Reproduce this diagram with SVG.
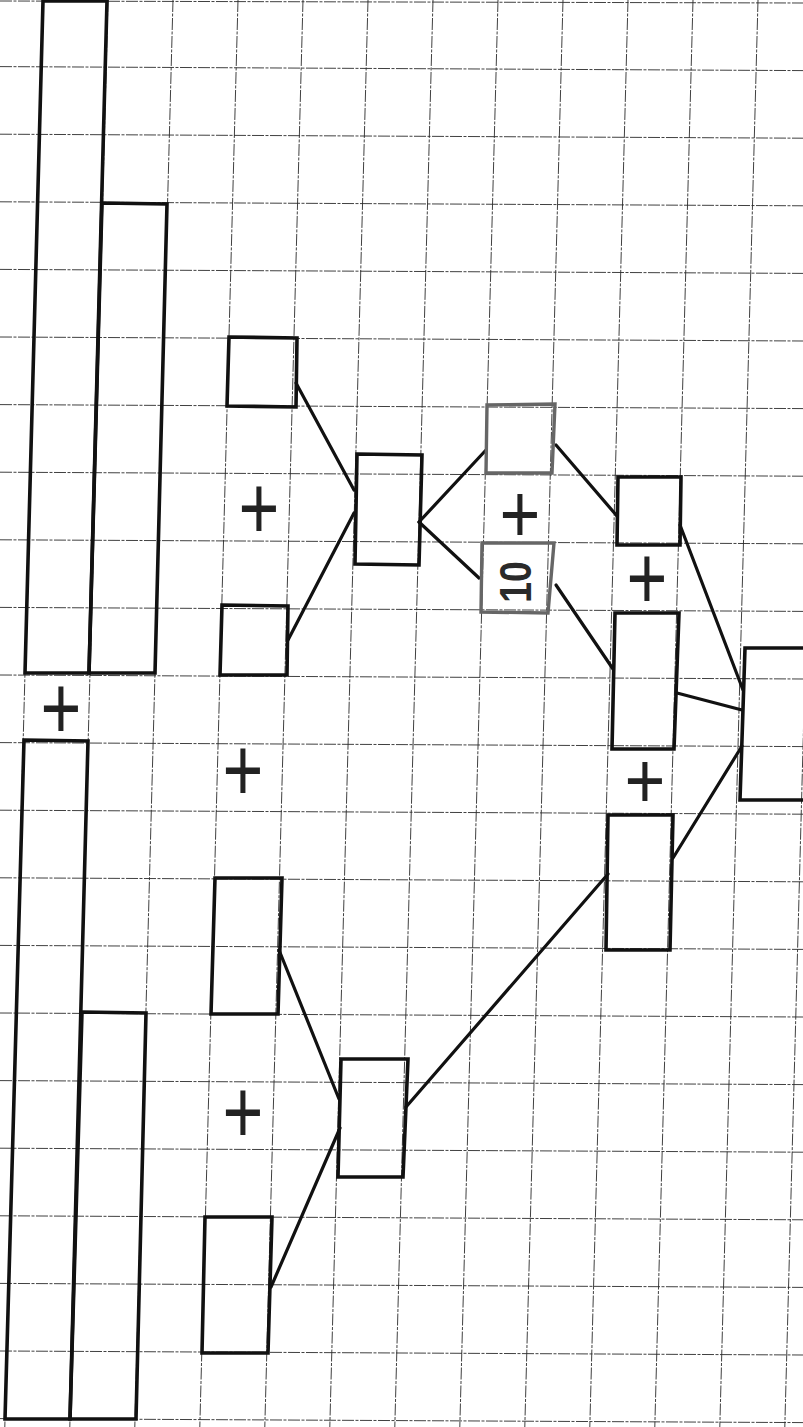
<svg xmlns="http://www.w3.org/2000/svg" width="803" height="1427" viewBox="0 0 803 1427">
<style>
.grid{stroke:#2a2a2a;stroke-width:0.9;stroke-dasharray:12 1.5 3 1.5;fill:none}
.box{fill:none;stroke:#111;stroke-width:3.6;stroke-linejoin:miter}
.gbox{fill:none;stroke:#666;stroke-width:3.4}
.conn{stroke:#111;stroke-width:3.2;stroke-linecap:round;fill:none}
.plus{font-family:"Liberation Sans",Arial,sans-serif;font-size:70px;fill:#222;text-anchor:middle;dominant-baseline:central}
.num{font-family:"Liberation Sans",Arial,sans-serif;font-size:44px;font-weight:bold;fill:#2a2a2a;text-anchor:middle;dominant-baseline:central}
</style>
<rect width="803" height="1427" fill="#fff"/>
<g id="grid">
<line class="grid" x1="43" y1="0" x2="4.8" y2="1427"/>
<line class="grid" x1="108" y1="0" x2="69.8" y2="1427"/>
<line class="grid" x1="173" y1="0" x2="134.8" y2="1427"/>
<line class="grid" x1="238" y1="0" x2="199.8" y2="1427"/>
<line class="grid" x1="303" y1="0" x2="264.8" y2="1427"/>
<line class="grid" x1="368" y1="0" x2="329.8" y2="1427"/>
<line class="grid" x1="433" y1="0" x2="394.8" y2="1427"/>
<line class="grid" x1="498" y1="0" x2="459.8" y2="1427"/>
<line class="grid" x1="563" y1="0" x2="524.8" y2="1427"/>
<line class="grid" x1="628" y1="0" x2="589.8" y2="1427"/>
<line class="grid" x1="693" y1="0" x2="654.8" y2="1427"/>
<line class="grid" x1="758" y1="0" x2="719.8" y2="1427"/>
<line class="grid" x1="823" y1="0" x2="784.8" y2="1427"/>
<line class="grid" x1="0" y1="1" x2="803" y2="3"/>
<line class="grid" x1="0" y1="66.6" x2="803" y2="70.6"/>
<line class="grid" x1="0" y1="134.2" x2="803" y2="138.2"/>
<line class="grid" x1="0" y1="201.8" x2="803" y2="205.8"/>
<line class="grid" x1="0" y1="269.4" x2="803" y2="273.4"/>
<line class="grid" x1="0" y1="337" x2="803" y2="341"/>
<line class="grid" x1="0" y1="404.6" x2="803" y2="408.6"/>
<line class="grid" x1="0" y1="472.2" x2="803" y2="476.2"/>
<line class="grid" x1="0" y1="539.8" x2="803" y2="543.8"/>
<line class="grid" x1="0" y1="607.4" x2="803" y2="611.4"/>
<line class="grid" x1="0" y1="675" x2="803" y2="679"/>
<line class="grid" x1="0" y1="742.6" x2="803" y2="746.6"/>
<line class="grid" x1="0" y1="810.2" x2="803" y2="814.2"/>
<line class="grid" x1="0" y1="877.8" x2="803" y2="881.8"/>
<line class="grid" x1="0" y1="945.4" x2="803" y2="949.4"/>
<line class="grid" x1="0" y1="1013" x2="803" y2="1017"/>
<line class="grid" x1="0" y1="1080.6" x2="803" y2="1084.6"/>
<line class="grid" x1="0" y1="1148.2" x2="803" y2="1152.2"/>
<line class="grid" x1="0" y1="1215.8" x2="803" y2="1219.8"/>
<line class="grid" x1="0" y1="1283.4" x2="803" y2="1287.4"/>
<line class="grid" x1="0" y1="1351" x2="803" y2="1355"/>
<line class="grid" x1="0" y1="1418.6" x2="803" y2="1422.6"/>
</g>
<g id="connectors">
<line class="conn" x1="296" y1="383" x2="354" y2="490"/>
<line class="conn" x1="288" y1="640" x2="354" y2="513"/>
<line class="conn" x1="419" y1="522" x2="486" y2="450"/>
<line class="conn" x1="419" y1="522" x2="479" y2="578"/>
<line class="conn" x1="556" y1="445" x2="617" y2="516"/>
<line class="conn" x1="556" y1="585" x2="613" y2="669"/>
<line class="conn" x1="680" y1="525" x2="743" y2="690"/>
<line class="conn" x1="677" y1="693" x2="742" y2="710"/>
<line class="conn" x1="673" y1="858" x2="742" y2="746"/>
<line class="conn" x1="279" y1="950" x2="339" y2="1099"/>
<line class="conn" x1="271" y1="1287" x2="340" y2="1128"/>
<line class="conn" x1="406" y1="1107" x2="608" y2="874"/>
</g>
<g id="bar-top-1"><polygon class="box" points="43,1 107,1 89,673 25,673"/></g>
<g id="bar-top-2"><polygon class="box" points="102,203 167,204 155,673 89,673"/></g>
<g id="plus-bars"><text class="plus" transform="translate(61,708) scale(1,1.3)">+</text></g>
<g id="bar-bottom-1"><polygon class="box" points="24,740 88,741 70,1419 5,1419"/></g>
<g id="bar-bottom-2"><polygon class="box" points="82,1012 146,1013 136,1419 70,1419"/></g>
<g id="box-a"><polygon class="box" points="229,337 297,338 296,407 227,406"/></g>
<g id="plus-ab"><text class="plus" transform="translate(259,508) scale(1,1.3)">+</text></g>
<g id="box-b"><polygon class="box" points="222,605 288,606 287,675 220,675"/></g>
<g id="plus-bc"><text class="plus" transform="translate(243,770) scale(1,1.3)">+</text></g>
<g id="box-c"><polygon class="box" points="215,878 282,878 278,1014 211,1014"/></g>
<g id="plus-cd"><text class="plus" transform="translate(243,1112) scale(1,1.3)">+</text></g>
<g id="box-d"><polygon class="box" points="205,1217 272,1217 268,1353 202,1353"/></g>
<g id="box-e"><polygon class="box" points="357,454 422,455 419,565 355,564"/></g>
<g id="box-l"><polygon class="box" points="341,1059 408,1059 403,1177 338,1177"/></g>
<g id="box-f"><polygon class="gbox" points="487,405 555,404 552,473 486,473"/></g>
<g id="plus-fg"><text class="plus" transform="translate(520,513) scale(1,1.2)">+</text></g>
<g id="box-g"><polygon class="gbox" points="482,543 554,543 548,613 481,612"/><text class="num" transform="translate(516,582) rotate(-90) scale(0.85,1)">10</text></g>
<g id="box-h"><polygon class="box" points="618,477 681,477 680,545 617,545"/></g>
<g id="plus-hi"><text class="plus" transform="translate(647,578) scale(1,1.3)">+</text></g>
<g id="box-i"><polygon class="box" points="615,613 679,613 674,749 612,749"/></g>
<g id="plus-ij"><text class="plus" transform="translate(645,780) scale(1,1.15)">+</text></g>
<g id="box-j"><polygon class="box" points="608,815 673,815 670,950 606,950"/></g>
<g id="box-k"><polyline class="box" points="806,648 745,648 740,800 806,800"/></g>
</svg>
